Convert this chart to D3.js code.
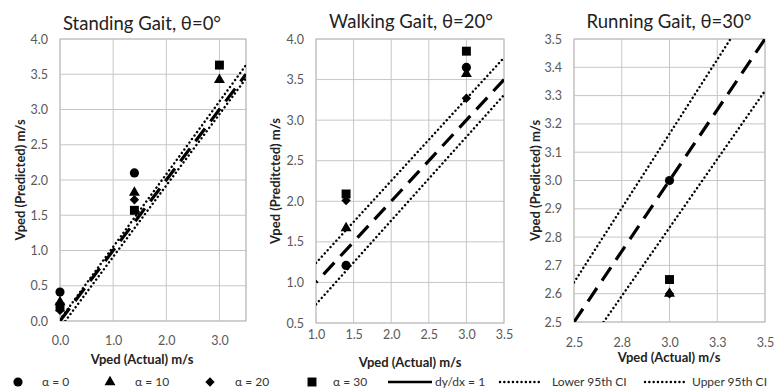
<!DOCTYPE html>
<html><head><meta charset="utf-8">
<script src="https://cdn.jsdelivr.net/npm/d3@7/dist/d3.min.js"></script>
<style>body{margin:0;background:#fff}svg{display:block}</style>
</head><body><svg id="c" width="774" height="390"></svg>
<script>
// ---- data ----
const seriesNames = ["α = 0", "α = 10", "α = 20", "α = 30"];
const seriesShapes = ["circle", "triangle", "diamond", "square"];

const standX = [0.0, 1.4, 3.0];
const stand0 = [0.41, 2.10, null];
const stand10 = [0.27, 1.82, 3.42];
const stand20 = [0.15, 1.72, null];
const stand30 = [0.20, 1.57, 3.63];
const standUpper = [[0.0, 0.02], [3.5, 3.63]];
const standLower = [[0.1, 0.0], [3.5, 3.44]];
const standXTicks = [0, 1, 2, 3];
const standYTicks = [0, 0.5, 1, 1.5, 2, 2.5, 3, 3.5, 4];

const walkX = [1.4, 3.0];
const walk0 = [1.21, 3.65];
const walk10 = [1.67, 3.57];
const walk20 = [2.01, 3.27];
const walk30 = [2.09, 3.85];
const walkUpper = [[1.0, 1.24], [3.5, 3.77]];
const walkLower = [[1.0, 0.73], [3.5, 3.31]];
const walkXTicks = [1, 1.5, 2, 2.5, 3, 3.5];
const walkYTicks = [0.5, 1, 1.5, 2, 2.5, 3, 3.5, 4];

const runX = [3.0];
const run0 = [3.00];
const run10 = [2.60];
const run20 = [2.60];
const run30 = [2.65];
const runUpper = [[2.5, 2.64], [3.5, 3.69]];
const runLower = [[2.5, 2.35], [3.5, 3.317]];
const runXTicks = [2.5, 2.75, 3.0, 3.25, 3.5];
const runYTicks = [2.5, 2.6, 2.7, 2.8, 2.9, 3.0, 3.1, 3.2, 3.3, 3.4, 3.5];

const titles = ["Standing Gait, θ=0°", "Walking Gait, θ=20°", "Running Gait, θ=30°"];
const yTitles = ["Vped (Predicted) m/s", "Vped (Preditcted) m/s", "Vped (Predicted) m/s"];
const xTitle = "Vped (Actual) m/s";
const lineLegend = ["dy/dx = 1", "Lower 95th CI", "Upper 95th CI"];

// ---- layout ----
const FONT = "Lato, 'Open Sans', sans-serif";
const panels = [
  {xd: [0, 3.5], yd: [0, 4], box: [60, 246, 39, 321], xs: standX, ys: [stand0, stand10, stand20, stand30],
   up: standUpper, lo: standLower, xt: standXTicks, xg: [0, 1, 2, 3, 3.5], yt: standYTicks, dashOff: 0,
   titleX: 142, titleY: 30, xlabY: 342, xTitleY: 364, xTitleX: 142, yTitleX: 20},
  {xd: [1, 3.5], yd: [0.5, 4], box: [316, 504, 39, 323], xs: walkX, ys: [walk0, walk10, walk20, walk30],
   up: walkUpper, lo: walkLower, xt: walkXTicks, xg: walkXTicks, yt: walkYTicks, dashOff: 14,
   titleX: 411, titleY: 28, xlabY: 336, xTitleY: 367, xTitleX: 410, yTitleX: 275},
  {xd: [2.5, 3.5], yd: [2.5, 3.5], box: [574, 765, 39, 322], xs: runX, ys: [run0, run10, run20, run30],
   up: runUpper, lo: runLower, xt: runXTicks, xg: runXTicks, yt: runYTicks, dashOff: 0,
   titleX: 669, titleY: 28, xlabY: 344, xTitleY: 362, xTitleX: 669, yTitleX: 535}
];

const svg = d3.select("#c");
const sym = {
  circle: d3.symbol().type(d3.symbolCircle).size(66),
  triangle: d3.symbol().type(d3.symbolTriangle).size(52),
  diamond: d3.symbol().type(d3.symbolSquare).size(44),
  square: d3.symbol().type(d3.symbolSquare).size(80)
};
const rot = s => s === "diamond" ? " rotate(45)" : "";
const DOTS = "0.1 4.2";

panels.forEach((p, i) => {
  const [L, R, T, B] = p.box;
  const x = d3.scaleLinear().domain(p.xd).range([L, R]);
  const y = d3.scaleLinear().domain(p.yd).range([B, T]);
  const g = svg.append("g");

  // grid
  g.append("g").selectAll("line").data(p.xg).join("line")
    .attr("x1", d => x(d)).attr("x2", d => x(d)).attr("y1", T).attr("y2", B)
    .attr("stroke", "#c6c6c6").attr("stroke-width", 1);
  g.append("g").selectAll("line").data(p.yt).join("line")
    .attr("x1", L).attr("x2", R).attr("y1", d => y(d)).attr("y2", d => y(d))
    .attr("stroke", "#c6c6c6").attr("stroke-width", 1);
  g.append("rect").attr("x", L).attr("y", T).attr("width", R - L).attr("height", B - T)
    .attr("fill", "none").attr("stroke", "#bdbdbd");

  // axes labels via d3 axes
  const ax = g.append("g").attr("transform", `translate(0,${p.xlabY - 9})`)
    .call(d3.axisBottom(x).tickValues(p.xt).tickFormat(d3.format(".1f")).tickSize(0));
  const ay = g.append("g").attr("transform", `translate(${L - 9},0)`)
    .call(d3.axisLeft(y).tickValues(p.yt).tickFormat(d3.format(".1f")).tickSize(0));
  [ax, ay].forEach(a => {
    a.select(".domain").remove();
    a.selectAll("text").attr("fill", "#595959").style("font-family", FONT).style("font-size", "12.5px");
  });

  // clip
  const cid = "clip" + i;
  svg.append("clipPath").attr("id", cid).append("rect")
    .attr("x", L).attr("y", T).attr("width", R - L).attr("height", B - T);
  const lg = g.append("g").attr("clip-path", `url(#${cid})`);
  const line = d3.line().x(d => x(d[0])).y(d => y(d[1]));
  [p.up, p.lo].forEach(ci => {
    lg.append("path").attr("d", line(ci)).attr("fill", "none").attr("stroke", "#000")
      .attr("stroke-width", 2.4).attr("stroke-linecap", "round").attr("stroke-dasharray", DOTS);
  });
  lg.append("path").attr("d", line([[p.xd[0], p.xd[0]], [p.xd[1], p.xd[1]]]))
    .attr("fill", "none").attr("stroke", "#000").attr("stroke-width", 3.2)
    .attr("stroke-dasharray", "16 9").attr("stroke-dashoffset", p.dashOff);

  // markers
  p.ys.forEach((vals, si) => {
    const pts = p.xs.map((xv, k) => [xv, vals[k]]).filter(d => d[1] != null);
    g.append("g").selectAll("path").data(pts).join("path")
      .attr("d", sym[seriesShapes[si]])
      .attr("transform", d => `translate(${x(d[0])},${y(d[1])})${rot(seriesShapes[si])}`)
      .attr("fill", "#000");
  });

  // titles
  g.append("text").attr("x", p.titleX).attr("y", p.titleY).attr("text-anchor", "middle")
    .style("font-family", FONT).style("font-size", "18.5px").attr("fill", "#222").text(titles[i]);
  g.append("text").attr("x", p.xTitleX).attr("y", p.xTitleY).attr("text-anchor", "middle")
    .style("font-family", FONT).style("font-size", "13px").style("font-weight", "bold").attr("fill", "#222").text(xTitle);
  g.append("text").attr("transform", `translate(${p.yTitleX},${(T + B) / 2}) rotate(-90)`)
    .attr("text-anchor", "middle").attr("dy", "0.35em")
    .style("font-family", FONT).style("font-size", "13px").style("font-weight", "bold").attr("fill", "#222").text(yTitles[i]);
});

// legend
const LY = 382;
const LFS = "12px";
const legMarkX = [18, 110, 210, 312];
const legTextX = [42, 135, 235, 333];
seriesShapes.forEach((s, i) => {
  svg.append("path").attr("d", sym[s]).attr("transform", `translate(${legMarkX[i]},${LY})${rot(s)}`).attr("fill", "#000");
  svg.append("text").attr("x", legTextX[i]).attr("y", LY).attr("dy", "0.35em")
    .style("font-family", FONT).style("font-size", LFS).attr("fill", "#333").text(seriesNames[i]);
});
const legLine = [[388, 432, 435, null], [500, 542, 552, DOTS], [645, 685, 692, DOTS]];
legLine.forEach((l, i) => {
  const pth = svg.append("line").attr("x1", l[0]).attr("x2", l[1]).attr("y1", LY).attr("y2", LY)
    .attr("stroke", "#000").attr("stroke-width", l[3] ? 2.4 : 2.5);
  if (l[3]) pth.attr("stroke-dasharray", l[3]).attr("stroke-linecap", "round");
  svg.append("text").attr("x", l[2]).attr("y", LY).attr("dy", "0.35em")
    .style("font-family", FONT).style("font-size", LFS).attr("fill", "#333").text(lineLegend[i]);
});
</script></body></html>
